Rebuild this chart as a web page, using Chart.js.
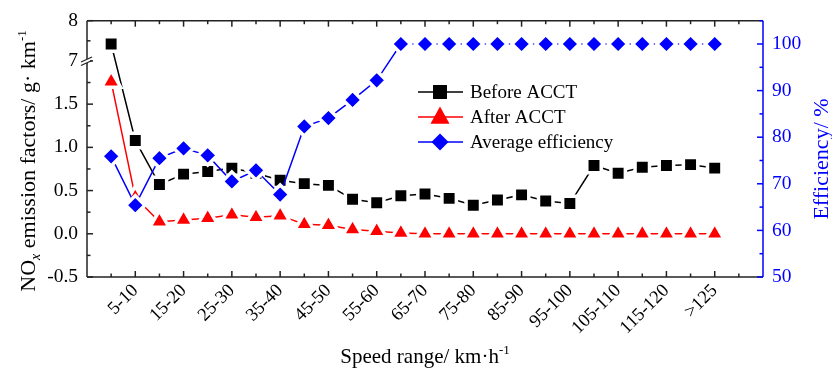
<!DOCTYPE html>
<html><head><meta charset="utf-8">
<script src="https://cdn.jsdelivr.net/npm/chart.js@4/dist/chart.umd.min.js"></script>
<style>html,body{margin:0;padding:0;background:#fff;}</style>
</head><body>
<canvas id="c" width="832" height="370"></canvas>
<script>
// ---------- data ----------
const categories = ['0-5','5-10','10-15','15-20','20-25','25-30','30-35','35-40','40-45','45-50','50-55','55-60','60-65','65-70','70-75','75-80','80-85','85-90','90-95','95-100','100-105','105-110','110-115','115-120','120-125','>125'];
const beforeACCT = [7.42,1.08,0.57,0.69,0.72,0.76,0.70,0.62,0.58,0.56,0.40,0.36,0.44,0.46,0.41,0.33,0.39,0.45,0.38,0.35,0.79,0.70,0.77,0.79,0.80,0.76];
const afterACCT = [1.76,0.42,0.14,0.16,0.18,0.22,0.19,0.21,0.11,0.10,0.05,0.03,0.01,0.0,0.0,0.0,0.0,0.0,0.0,0.0,0.0,0.0,0.0,0.0,0.0,0.0];
const avgEfficiency = [75.9,65.4,75.5,77.6,76.1,70.5,72.9,67.7,82.3,84.1,88.0,92.2,100,100,100,100,100,100,100,100,100,100,100,100,100,100];
const leftTickValues = [-0.5,0,0.5,1.0,1.5,7,8];
const leftTickLabels = ['-0.5','0.0','0.5','1.0','1.5','7','8'];
const leftMinorTicks = [-0.25,0.25,0.75,1.25,1.75,7.5];
const rightTickValues = [50,60,70,80,90,100];
const rightMinorTicks = [55,65,75,85,95,105];
const seriesNames = ['Before ACCT','After ACCT','Average efficiency'];

// broken axis: -0.5..2 and 7..8
const BREAK_LOW = 2, BREAK_HIGH = 7, UPPER_SCALE = 0.4655;
const toAxis = v => v <= BREAK_LOW ? v : BREAK_LOW + (v - BREAK_HIGH) * UPPER_SCALE;

const FONT = '"Liberation Serif", "Times New Roman", serif';
const BLUE = '#0000ff', RED = '#ff0000', BLACK = '#000000';

function richText(ctx, parts, x, y, align) {
  let total = 0;
  parts.forEach(p => { ctx.font = (p[2]||'') + ' ' + p[1] + 'px ' + FONT; total += ctx.measureText(p[0]).width; });
  let cx = align === 'center' ? x - total/2 : x;
  ctx.textAlign = 'left'; ctx.textBaseline = 'alphabetic';
  parts.forEach(p => {
    ctx.font = (p[2]||'') + ' ' + p[1] + 'px ' + FONT;
    ctx.fillText(p[0], cx, y + (p[3]||0));
    cx += ctx.measureText(p[0]).width;
  });
}

function drawMarker(ctx, style, x, y, s, color) {
  ctx.fillStyle = color;
  ctx.beginPath();
  if (style === 'rect') ctx.rect(x - s/2, y - s/2, s, s);
  else if (style === 'triangle') { ctx.moveTo(x, y - s*0.55); ctx.lineTo(x + s/2, y + s*0.35); ctx.lineTo(x - s/2, y + s*0.35); ctx.closePath(); }
  else { ctx.moveTo(x, y - s/2); ctx.lineTo(x + s/2, y); ctx.lineTo(x, y + s/2); ctx.lineTo(x - s/2, y); ctx.closePath(); }
  ctx.fill();
}

const framePlugin = {
  id: 'frame',
  afterDraw(chart) {
    const ctx = chart.ctx;
    const {left, right, top, bottom} = chart.chartArea;
    const xs = chart.scales.x, yl = chart.scales.y, yr = chart.scales.y2;
    ctx.save();
    ctx.lineCap = 'butt';
    const ln = (a,b,c,d) => { ctx.beginPath(); ctx.moveTo(a,b); ctx.lineTo(c,d); ctx.stroke(); };
    ctx.strokeStyle = '#222'; ctx.lineWidth = 1.5;
    ln(left, bottom, right, bottom);
    ln(left, top, right, top);
    ln(left, top, left, bottom);
    for (let i = 0; i <= 26; i++) {
      const x = xs.getPixelForValue(i);
      const len = (i % 2 === 1) ? 6 : 3.5;
      ln(x, bottom, x, bottom - len);
      ln(x, top, x, top + len);
    }
    leftTickValues.forEach(v => { const y = yl.getPixelForValue(toAxis(v)); ln(left, y, left + 6, y); });
    leftMinorTicks.forEach(v => { const y = yl.getPixelForValue(toAxis(v)); ln(left, y, left + 3.5, y); });
    const yb = yl.getPixelForValue(BREAK_LOW);
    ctx.fillStyle = '#fff';
    ctx.fillRect(left - 3, yb - 2, 6, 4);
    ctx.lineWidth = 1.2;
    ln(left - 6, yb + 1, left + 5, yb - 4);
    ln(left - 6, yb + 4.5, left + 5, yb - 0.5);
    ctx.strokeStyle = BLUE; ctx.lineWidth = 1.5;
    ln(right, top, right, bottom);
    rightTickValues.forEach(v => { const y = yr.getPixelForValue(v); ln(right, y, right - 6, y); });
    rightMinorTicks.forEach(v => { const y = yr.getPixelForValue(v); ln(right, y, right - 3.5, y); });

    const lg = [
      {name: seriesNames[0], color: BLACK, style: 'rect', s: 14},
      {name: seriesNames[1], color: RED, style: 'triangle', s: 19},
      {name: seriesNames[2], color: BLUE, style: 'diamond', s: 17}
    ];
    lg.forEach((e, k) => {
      const y = 92 + k * 25;
      ctx.strokeStyle = e.color; ctx.lineWidth = 1.5;
      ln(418, y, 463, y);
      drawMarker(ctx, e.style, 440, y, e.s, e.color);
      ctx.fillStyle = '#000';
      ctx.font = '19px ' + FONT; ctx.textAlign = 'left'; ctx.textBaseline = 'middle';
      ctx.fillText(e.name, 470, y + 1);
    });

    ctx.fillStyle = '#000';
    richText(ctx, [['Speed range/ km\u00b7h', 21], ['-1', 13, '', -9]], (left + right) / 2, 363, 'center');
    ctx.save();
    ctx.translate(35, 161); ctx.rotate(-Math.PI/2);
    richText(ctx, [['NO', 22], ['x', 14, 'italic', 5], [' emission factors/ g\u00b7 km', 22], ['-1', 13, '', -9]], 0, 0, 'center');
    ctx.restore();
    ctx.save();
    ctx.fillStyle = BLUE;
    ctx.translate(828, 159); ctx.rotate(-Math.PI/2);
    richText(ctx, [['Efficiency/ %', 22]], 0, 0, 'center');
    ctx.restore();
    ctx.restore();
  }
};

const mk = (arr, f) => arr.map((v, i) => ({x: i, y: f(v)}));

new Chart(document.getElementById('c'), {
  type: 'line',
  data: {
    datasets: [
      {label: seriesNames[0], data: mk(beforeACCT, toAxis), yAxisID: 'y', order: 3,
       borderColor: BLACK, borderWidth: 1.5, pointStyle: 'rect', pointRadius: 10.2,
       pointBackgroundColor: BLACK, pointBorderColor: '#fff', pointBorderWidth: 3.5},
      {label: seriesNames[1], data: mk(afterACCT, toAxis), yAxisID: 'y', order: 2,
       borderColor: RED, borderWidth: 1.5, pointStyle: 'triangle', pointRadius: 11,
       pointBackgroundColor: RED, pointBorderColor: '#fff', pointBorderWidth: 3.5},
      {label: seriesNames[2], data: mk(avgEfficiency, v => v), yAxisID: 'y2', order: 1,
       borderColor: BLUE, borderWidth: 1.5, pointStyle: 'rectRot', pointRadius: 9.6,
       pointBackgroundColor: BLUE, pointBorderColor: '#fff', pointBorderWidth: 3.5}
    ]
  },
  options: {
    responsive: false, animation: false, devicePixelRatio: 1,
    layout: {padding: {top: 20, left: 0, right: 0, bottom: 0}},
    plugins: {legend: {display: false}, tooltip: {enabled: false}},
    elements: {line: {tension: 0}},
    scales: {
      x: {
        type: 'linear', position: 'bottom', min: -1, max: 27,
        grid: {display: false, drawTicks: false}, border: {display: false},
        ticks: {autoSkip: false, minRotation: 45, maxRotation: 45, padding: 3, color: '#000',
                font: {family: FONT, size: 18.5}, callback: v => categories[v] ?? ''},
        afterBuildTicks: s => { s.ticks = categories.map((c, i) => ({value: i})).filter(t => t.value % 2 === 1); },
        afterFit: s => { s.height = 93; }
      },
      y: {
        position: 'left', min: -0.5, max: toAxis(8),
        grid: {display: false, drawTicks: false}, border: {display: false},
        ticks: {padding: 9, color: '#000', font: {family: FONT, size: 19.5},
                callback: (v, i) => leftTickLabels[i]},
        afterBuildTicks: s => { s.ticks = leftTickValues.map(v => ({value: toAxis(v)})); },
        afterFit: s => { s.width = 87; }
      },
      y2: {
        position: 'right', min: 50, max: 105,
        grid: {display: false, drawTicks: false}, border: {display: false},
        ticks: {padding: 9, color: BLUE, font: {family: FONT, size: 19.5}, callback: v => String(v)},
        afterBuildTicks: s => { s.ticks = rightTickValues.map(v => ({value: v})); },
        afterFit: s => { s.width = 69; }
      }
    }
  },
  plugins: [framePlugin]
});
</script>
</body></html>
